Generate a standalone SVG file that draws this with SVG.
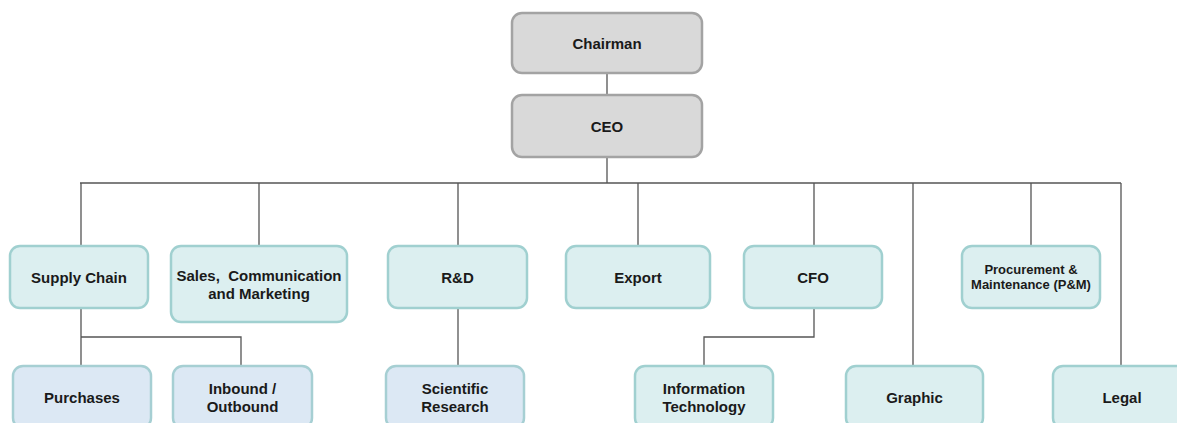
<svg xmlns="http://www.w3.org/2000/svg" width="1177" height="423" viewBox="0 0 1177 423">
<style>
.bg{fill:#ffffff}
.gray{fill:#d9d9d9;stroke:#a3a3a3;stroke-width:2.5}
.teal{fill:#dceff0;stroke:#a0d0d0;stroke-width:2.5}
.blue{fill:#dce8f4;stroke:#a6cfd3;stroke-width:2.5}
text{font-family:"Liberation Sans",Arial,sans-serif;font-weight:bold;font-size:15px;fill:#1a1a1a;text-anchor:middle;white-space:pre}
.sm{font-size:13px}
.conn{stroke:#555555;stroke-width:1.3;fill:none}
</style>
<rect class="bg" width="1177" height="423"/>
<g id="connectors">
<path class="conn" d="M607 73V95M607 157V183M80 183H1121"/>
<path class="conn" d="M81 183V246M259 183V246M458 183V246M638 183V246M814 183V246M1031 183V246M913 183V366M1121 183V366"/>
<path class="conn" d="M81 308V366M81 337H241V366"/>
<path class="conn" d="M458 308V366"/>
<path class="conn" d="M814 308V337H704V366"/>
</g>
<g id="chairman"><rect class="gray" x="512" y="13" width="190" height="60" rx="10"/><text x="607" y="48.5">Chairman</text></g>
<g id="ceo"><rect class="gray" x="512" y="95" width="190" height="62" rx="10"/><text x="607" y="131.5">CEO</text></g>
<g id="supply-chain"><rect class="teal" x="10" y="246" width="138" height="62" rx="10"/><text x="79" y="282.5">Supply Chain</text></g>
<g id="sales"><rect class="teal" x="171" y="246" width="176" height="76" rx="10"/><text x="259" y="280.5">Sales,  Communication</text><text x="259" y="298.5">and Marketing</text></g>
<g id="rnd"><rect class="teal" x="388" y="246" width="139" height="62" rx="10"/><text x="457.5" y="282.5">R&amp;D</text></g>
<g id="export"><rect class="teal" x="566" y="246" width="144" height="62" rx="10"/><text x="638" y="282.5">Export</text></g>
<g id="cfo"><rect class="teal" x="744" y="246" width="138" height="62" rx="10"/><text x="813" y="282.5">CFO</text></g>
<g id="pm"><rect class="teal" x="962" y="246" width="138" height="62" rx="10"/><text class="sm" x="1031" y="273.5">Procurement &amp;</text><text class="sm" x="1031" y="289">Maintenance (P&amp;M)</text></g>
<g id="purchases"><rect class="blue" x="13" y="366" width="138" height="62" rx="10"/><text x="82" y="402.5">Purchases</text></g>
<g id="inbound"><rect class="blue" x="173" y="366" width="139" height="62" rx="10"/><text x="242.5" y="393.5">Inbound /</text><text x="242.5" y="411.5">Outbound</text></g>
<g id="scientific"><rect class="blue" x="386" y="366" width="138" height="62" rx="10"/><text x="455" y="393.5">Scientific</text><text x="455" y="411.5">Research</text></g>
<g id="it"><rect class="teal" x="635" y="366" width="138" height="62" rx="10"/><text x="704" y="393.5">Information</text><text x="704" y="411.5">Technology</text></g>
<g id="graphic"><rect class="teal" x="846" y="366" width="137" height="62" rx="10"/><text x="914.5" y="402.5">Graphic</text></g>
<g id="legal"><rect class="teal" x="1053" y="366" width="138" height="62" rx="10"/><text x="1122" y="402.5">Legal</text></g>
</svg>
